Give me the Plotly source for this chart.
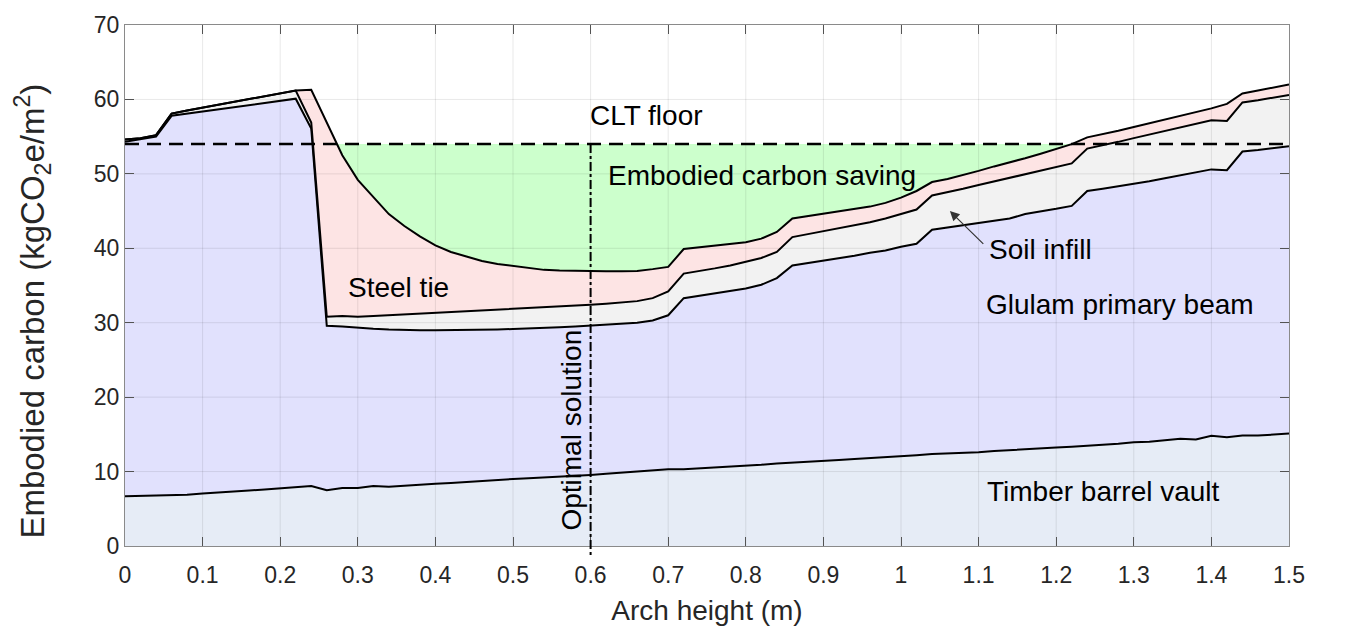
import plotly.graph_objects as go

# ---------------- data ----------------
arch_height = [round(i * 0.02, 2) for i in range(76)]  # 0 ... 1.5 m

# top of timber barrel vault layer
vault_top = [6.7, 6.75, 6.8, 6.8, 6.9, 7.05, 7.15, 7.3, 7.45, 7.6,
             7.75, 7.9, 8.05, 7.5, 7.8, 7.8, 8.05, 7.95, 8.1, 8.2,
             8.35, 8.45, 8.6, 8.7, 8.85, 9.0, 9.1, 9.2, 9.35, 9.45,
             9.55, 9.7, 9.85, 10.0, 10.1, 10.3, 10.3, 10.4, 10.5, 10.6,
             10.75, 10.9, 11.1, 11.2, 11.3, 11.4, 11.55, 11.7, 11.8, 11.9,
             12.05, 12.2, 12.35, 12.4, 12.5, 12.6, 12.75, 12.9, 13.0, 13.15,
             13.25, 13.35, 13.45, 13.55, 13.75, 13.95, 14.0, 14.2, 14.4, 14.3,
             14.8, 14.6, 14.85, 14.85, 15.0, 15.1]

# top of glulam primary beam layer (cumulative)
glulam_top = [54.3, 54.6, 55.0, 57.8, 58.1, 58.4, 58.7, 58.95, 59.25, 59.5,
              59.8, 60.1, 56.1, 29.6, 29.5, 29.3, 29.2, 29.1, 29.0, 29.0,
              29.0, 29.0, 29.0, 29.05, 29.1, 29.15, 29.2, 29.3, 29.4, 29.5,
              29.6, 29.7, 29.85, 30.0, 30.3, 31.0, 33.3, 33.6, 33.9, 34.2,
              34.6, 35.1, 36.0, 37.7, 38.0, 38.4, 38.7, 39.0, 39.4, 39.7,
              40.2, 40.6, 42.5, 42.8, 43.1, 43.4, 43.7, 44.0, 44.6, 44.9,
              45.3, 45.7, 47.7, 48.0, 48.3, 48.6, 49.0, 49.4, 49.8, 50.2,
              50.6, 50.5, 53.0, 53.2, 53.4, 53.7]

# top of soil infill layer (cumulative)
soil_top = [54.6, 54.8, 55.2, 58.1, 58.5, 58.9, 59.3, 59.65, 60.0, 60.4,
            60.8, 61.2, 56.9, 30.8, 30.9, 30.8, 30.9, 31.0, 31.1, 31.2,
            31.3, 31.4, 31.5, 31.65, 31.8, 31.9, 32.0, 32.1, 32.2, 32.3,
            32.4, 32.55, 32.7, 32.9, 33.3, 34.2, 36.6, 36.9, 37.3, 37.7,
            38.2, 38.7, 39.5, 41.5, 41.9, 42.3, 42.7, 43.1, 43.5, 44.0,
            44.6, 45.2, 47.1, 47.5, 48.0, 48.5, 49.0, 49.5, 50.0, 50.5,
            51.0, 51.4, 53.4, 53.8, 54.3, 54.8, 55.3, 55.8, 56.2, 56.7,
            57.2, 57.1, 59.6, 59.9, 60.2, 60.6]

# total embodied carbon = top of steel tie layer
total = [54.6, 54.8, 55.2, 58.1, 58.5, 58.9, 59.3, 59.65, 60.0, 60.4,
         60.8, 61.2, 61.3, 57.0, 52.5, 49.2, 46.9, 44.6, 43.0, 41.6,
         40.4, 39.5, 38.9, 38.3, 37.9, 37.6, 37.3, 37.1, 37.0, 36.95,
         36.9, 36.9, 36.9, 36.95, 37.2, 37.5, 39.9, 40.1, 40.3, 40.5,
         40.8, 41.3, 42.2, 44.0, 44.3, 44.6, 44.9, 45.2, 45.6, 46.1,
         46.8, 47.7, 48.9, 49.3, 49.8, 50.4, 51.0, 51.5, 52.1, 52.7,
         53.3, 54.0, 54.9, 55.3, 55.8, 56.3, 56.8, 57.3, 57.7, 58.2,
         58.8, 59.4, 60.8, 61.2, 61.6, 62.0]

clt_floor = 54.0        # reference embodied carbon of CLT floor
optimal_height = 0.6    # optimal arch height

x_ticks = [0, 0.1, 0.2, 0.3, 0.4, 0.5, 0.6, 0.7, 0.8, 0.9, 1.0, 1.1, 1.2, 1.3, 1.4, 1.5]
x_tick_labels = ["0", "0.1", "0.2", "0.3", "0.4", "0.5", "0.6", "0.7", "0.8",
                 "0.9", "1", "1.1", "1.2", "1.3", "1.4", "1.5"]
y_ticks = [0, 10, 20, 30, 40, 50, 60, 70]
y_tick_labels = ["0", "10", "20", "30", "40", "50", "60", "70"]

# ---------------- styles ----------------
FONT = "Arial, Liberation Sans, Helvetica, sans-serif"
C_VAULT = "#e6ecf6"
C_GLULAM = "#e1e1fd"
C_SOIL = "#f2f2f2"
C_STEEL = "#fde4e4"
C_SAVE = "#ccffcc"
TXT = "#262626"
LINE = dict(color="black", width=2)

fig = go.Figure()

# embodied-carbon saving (green) between CLT floor level and total
fig.add_trace(go.Scatter(x=arch_height, y=[clt_floor] * len(arch_height),
                         mode="lines", line=dict(width=0), hoverinfo="skip",
                         showlegend=False))
fig.add_trace(go.Scatter(x=arch_height, y=total, mode="lines",
                         line=dict(width=0), fill="tonexty", fillcolor=C_SAVE,
                         hoverinfo="skip", showlegend=False))

# stacked layers
fig.add_trace(go.Scatter(x=arch_height, y=vault_top, mode="lines", line=LINE,
                         fill="tozeroy", fillcolor=C_VAULT, showlegend=False))
fig.add_trace(go.Scatter(x=arch_height, y=glulam_top, mode="lines", line=LINE,
                         fill="tonexty", fillcolor=C_GLULAM, showlegend=False))
fig.add_trace(go.Scatter(x=arch_height, y=soil_top, mode="lines", line=LINE,
                         fill="tonexty", fillcolor=C_SOIL, showlegend=False))
fig.add_trace(go.Scatter(x=arch_height, y=total, mode="lines", line=LINE,
                         fill="tonexty", fillcolor=C_STEEL, showlegend=False))

shapes = []
# grid lines on top of the fills (MATLAB style)
for xv in x_ticks[1:-1]:
    shapes.append(dict(type="line", xref="x", yref="y", x0=xv, x1=xv, y0=0, y1=70,
                       line=dict(color="rgba(0,0,0,0.09)", width=1), layer="above"))
for yv in y_ticks[1:-1]:
    shapes.append(dict(type="line", xref="x", yref="y", x0=0, x1=1.5, y0=yv, y1=yv,
                       line=dict(color="rgba(0,0,0,0.09)", width=1), layer="above"))
# CLT floor dashed line
shapes.append(dict(type="line", xref="x", yref="y", x0=0, x1=1.5, y0=clt_floor, y1=clt_floor,
                   line=dict(color="black", width=2.5, dash="14px,8px"), layer="above"))
# optimal solution dash-dot line (extends slightly below the axis)
shapes.append(dict(type="line", xref="x", yref="paper", x0=optimal_height, x1=optimal_height,
                   y0=clt_floor / 70.0, y1=-0.018,
                   line=dict(color="black", width=2, dash="dashdot"), layer="above"))

ann_font = dict(family=FONT, size=28, color="black")
annotations = [
    dict(x=0.672, y=57.8, text="CLT floor"),
    dict(x=0.821, y=49.8, text="Embodied carbon saving"),
    dict(x=0.352, y=34.7, text="Steel tie"),
    dict(x=1.111, y=39.9, text="Soil infill", xanchor="left"),
    dict(x=1.282, y=32.5, text="Glulam primary beam"),
    dict(x=1.261, y=7.3, text="Timber barrel vault"),
    dict(x=0.5756, y=15.6, text="Optimal solution", textangle=-90),
]
for a in annotations:
    a.update(xref="x", yref="y", showarrow=False, font=ann_font)
# arrow for soil infill
annotations.append(dict(x=1.063, y=45.0, ax=1.108, ay=40.4, xref="x", yref="y",
                         axref="x", ayref="y", text="", showarrow=True,
                         arrowhead=2, arrowsize=1.6, arrowwidth=1.2, arrowcolor="#333"))
# y-axis title (placed as in the reference, slightly below axis centre)
annotations.append(dict(xref="paper", yref="paper", x=-0.079, y=0.45,
                         xanchor="center", yanchor="middle", textangle=-90,
                         text="Embodied carbon (kgCO<sub>2</sub>e/m<sup>2</sup>)",
                         showarrow=False, font=dict(family=FONT, size=33, color=TXT)))

axis_common = dict(showgrid=False, zeroline=False, showline=True, linecolor="#8a8a8a",
                   linewidth=1, mirror="ticks", ticks="inside", ticklen=9,
                   tickcolor="#5a5a5a", tickwidth=1,
                   tickfont=dict(family=FONT, size=23, color=TXT))

fig.update_layout(
    width=1345, height=632,
    margin=dict(l=125, r=56, t=20, b=84),
    paper_bgcolor="white", plot_bgcolor="white",
    shapes=shapes, annotations=annotations,
    xaxis=dict(range=[0, 1.5], tickvals=x_ticks, ticktext=x_tick_labels,
               ticklabelstandoff=8,
               title=dict(text="Arch height (m)", font=dict(family=FONT, size=28, color=TXT),
                          standoff=13),
               **axis_common),
    yaxis=dict(range=[0, 70], tickvals=y_ticks, ticktext=y_tick_labels,
               **axis_common),
)

fig.write_html("out.html")
